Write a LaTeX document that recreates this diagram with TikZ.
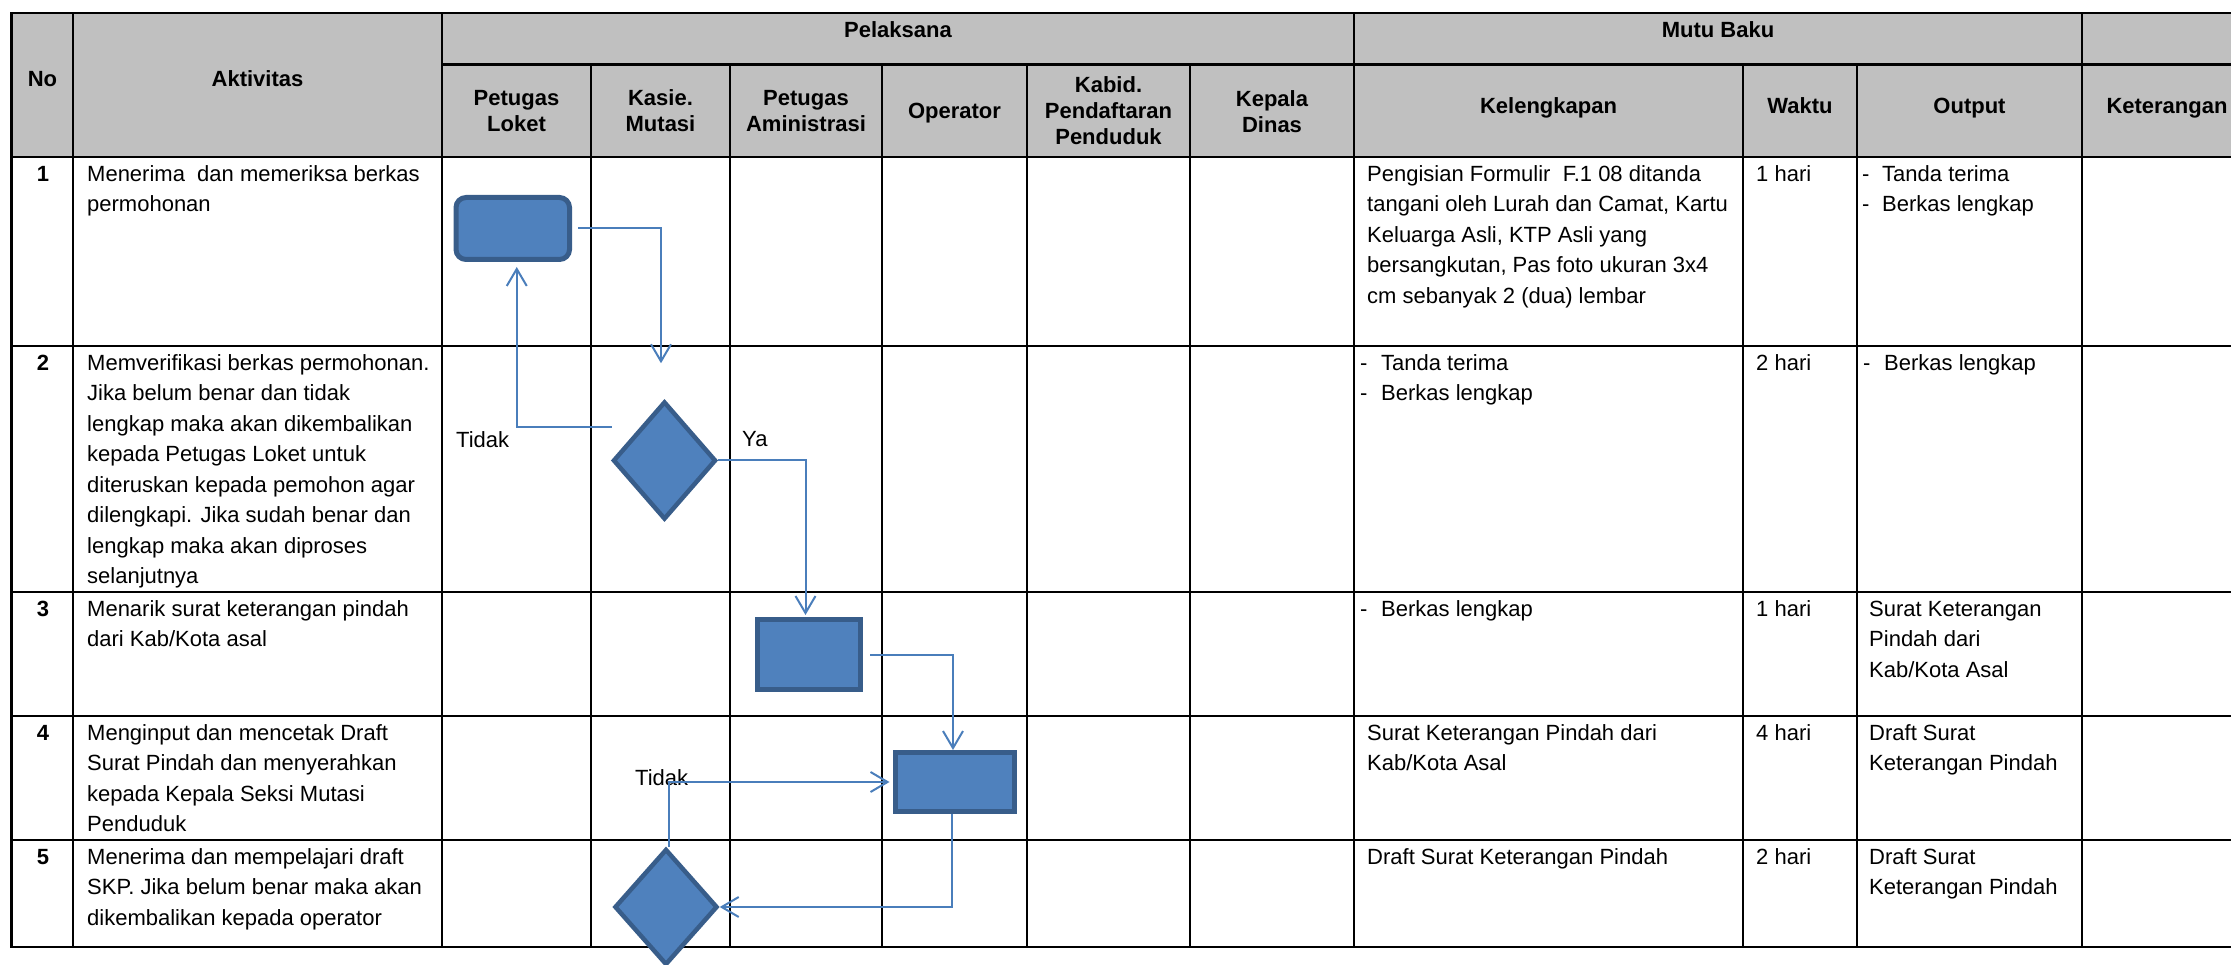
\documentclass[tikz,border=0pt]{standalone}
\usepackage{fontspec}
\setmainfont{Liberation Sans}
\usetikzlibrary{arrows.meta,shapes.geometric}
\definecolor{boxfill}{HTML}{4F81BD}
\definecolor{boxline}{HTML}{385D8A}
\definecolor{flowline}{HTML}{4A7EBB}
\definecolor{hdrgray}{HTML}{C0C0C0}
\tikzset{
  hline/.style={line width=2.6pt, black, line cap=rect},
  vline/.style={line width=2.3pt, black, line cap=rect},
  hdr/.style={font=\bfseries\fontsize{22}{26}\selectfont, align=center, inner sep=0pt, anchor=north},
  txt/.style={font=\fontsize{22}{30.5}\selectfont, align=left, inner sep=0pt, anchor=north west},
  num/.style={font=\bfseries\fontsize{22}{30.5}\selectfont, inner sep=0pt, anchor=north},
  lbl/.style={font=\fontsize{22}{30.5}\selectfont, inner sep=0pt, anchor=base west},
  procbox/.style={rectangle, fill=boxfill, draw=boxline, line width=5pt, inner sep=0pt},
  decision/.style={diamond, fill=boxfill, draw=boxline, line width=4.5pt, inner sep=0pt},
  flow/.style={draw=flowline, line width=2pt, -{Straight Barb[length=17pt,width=20pt]}},
}
\newcommand{\dashitem}[2]{\makebox[#1][l]{-}#2}
\begin{document}
\begin{tikzpicture}[x=1pt,y=-1pt]
\useasboundingbox (0,0) rectangle (2231,965);
% header background
\fill[hdrgray] (11.5,13) rectangle (2245,157);
% grid
\foreach \y in {13,157,346,592,716,840,947} \draw[hline] (11.5,\y) -- (2245,\y);
\draw[hline] (442,64.5) -- (2245,64.5);
\foreach \x in {11.5,73,442,1354,2082} \draw[vline] (\x,13) -- (\x,947);
\foreach \x in {591,730,882,1027,1190,1743,1857} \draw[vline] (\x,64.5) -- (\x,947);

% header texts
\node[hdr] (hNo) at (42.5,67.8) {\strut No};
\node[hdr] (hAkt) at (257.5,67.8) {\strut Aktivitas};
\node[hdr] (hPel) at (898,18.8) {\strut Pelaksana};
\node[hdr] (hMutu) at (1718,18.8) {\strut Mutu Baku};
\node[hdr] (hLoket) at (516.5,86.8) {\strut Petugas\\Loket};
\node[hdr] (hKasie) at (660.5,86.8) {\strut Kasie.\\Mutasi};
\node[hdr] (hAdm) at (806,86.8) {\strut Petugas\\Aministrasi};
\node[hdr] (hOp) at (954.5,99.8) {\strut Operator};
\node[hdr] (hKabid) at (1108.5,74.3) {\strut Kabid.\\Pendaftaran\\Penduduk};
\node[hdr] (hKep) at (1272,87.8) {\strut Kepala\\Dinas};
\node[hdr] (hKel) at (1548.5,94.8) {\strut Kelengkapan};
\node[hdr] (hWak) at (1800,94.8) {\strut Waktu};
\node[hdr] (hOut) at (1969.5,94.8) {\strut Output};
\node[hdr] (hKet) at (2167,94.8) {\strut Keterangan};

% row 1
\node[num] (n1) at (43,159.65) {\strut 1};
\node[txt] (a1) at (87,159.65) {\strut Menerima\ \ dan memeriksa berkas\\permohonan};
\node[txt] (k1) at (1367,159.65) {\strut Pengisian Formulir\ \ F.1 08 ditanda\\tangani oleh Lurah dan Camat, Kartu\\Keluarga Asli, KTP Asli yang\\bersangkutan, Pas foto ukuran 3x4\\cm sebanyak 2 (dua) lembar};
\node[txt] (w1) at (1756,159.65) {\strut 1 hari};
\node[txt] (o1) at (1862,159.65) {\strut\dashitem{20pt}{Tanda terima}\\\dashitem{20pt}{Berkas lengkap}};

% row 2
\node[num] (n2) at (43,348.65) {\strut 2};
\node[txt] (a2) at (87,348.65) {\strut Memverifikasi berkas permohonan.\\Jika belum benar dan tidak\\lengkap maka akan dikembalikan\\kepada Petugas Loket untuk\\diteruskan kepada pemohon agar\\dilengkapi. Jika sudah benar dan\\lengkap maka akan diproses\\selanjutnya};
\node[txt] (k2) at (1360,348.65) {\strut\dashitem{21pt}{Tanda terima}\\\dashitem{21pt}{Berkas lengkap}};
\node[txt] (w2) at (1756,348.65) {\strut 2 hari};
\node[txt] (o2) at (1863,348.65) {\strut\dashitem{21pt}{Berkas lengkap}};

% row 3
\node[num] (n3) at (43,594.65) {\strut 3};
\node[txt] (a3) at (87,594.65) {\strut Menarik surat keterangan pindah\\dari Kab/Kota asal};
\node[txt] (k3) at (1360,594.65) {\strut\dashitem{21pt}{Berkas lengkap}};
\node[txt] (w3) at (1756,594.65) {\strut 1 hari};
\node[txt] (o3) at (1869,594.65) {\strut Surat Keterangan\\Pindah dari\\Kab/Kota Asal};

% row 4
\node[num] (n4) at (43,718.65) {\strut 4};
\node[txt] (a4) at (87,718.65) {\strut Menginput dan mencetak Draft\\Surat Pindah dan menyerahkan\\kepada Kepala Seksi Mutasi\\Penduduk};
\node[txt] (k4) at (1367,718.65) {\strut Surat Keterangan Pindah dari\\Kab/Kota Asal};
\node[txt] (w4) at (1756,718.65) {\strut 4 hari};
\node[txt] (o4) at (1869,718.65) {\strut Draft Surat\\Keterangan Pindah};

% row 5
\node[num] (n5) at (43,842.65) {\strut 5};
\node[txt] (a5) at (87,842.65) {\strut Menerima dan mempelajari draft\\SKP. Jika belum benar maka akan\\dikembalikan kepada operator};
\node[txt] (k5) at (1367,842.65) {\strut Draft Surat Keterangan Pindah};
\node[txt] (w5) at (1756,842.65) {\strut 2 hari};
\node[txt] (o5) at (1869,842.65) {\strut Draft Surat\\Keterangan Pindah};

% flow shapes
\node[procbox, rounded corners=10pt, minimum width=113.5pt, minimum height=62pt] (b1) at (512.75,228.5) {};
\node[decision, minimum width=103pt, minimum height=118pt] (d1) at (664.5,460.5) {};
\node[procbox, minimum width=103pt, minimum height=70pt] (b3) at (809,654.5) {};
\node[procbox, minimum width=119pt, minimum height=59pt] (b4) at (955,782) {};
\node[decision, minimum width=103pt, minimum height=116pt] (d2) at (666,907) {};

% labels
\node[lbl] (t1) at (456,448) {Tidak};
\node[lbl] (ya) at (742,447) {Ya};
\node[lbl] (t2) at (635,785) {Tidak};

% connectors
\draw[flow] ([xshift=6pt]b1.east) -| ([xshift=-3.5pt,yshift=36pt]d1.north);
\draw[flow] ([xshift=1pt,yshift=33.5pt]d1.west) -| ([xshift=4pt,yshift=-5pt]b1.south);
\draw[flow] (d1.east) -| ([xshift=-3.5pt,yshift=2pt]b3.north);
\draw[flow] ([xshift=7pt]b3.east) -| ([xshift=-2pt]b4.north);
\draw[flow] ([xshift=-3pt]b4.south) |- (d2.east);
\draw[flow, shorten >=3.5pt] ([xshift=3pt]d2.north) |- (b4.west);
\end{tikzpicture}
\end{document}
